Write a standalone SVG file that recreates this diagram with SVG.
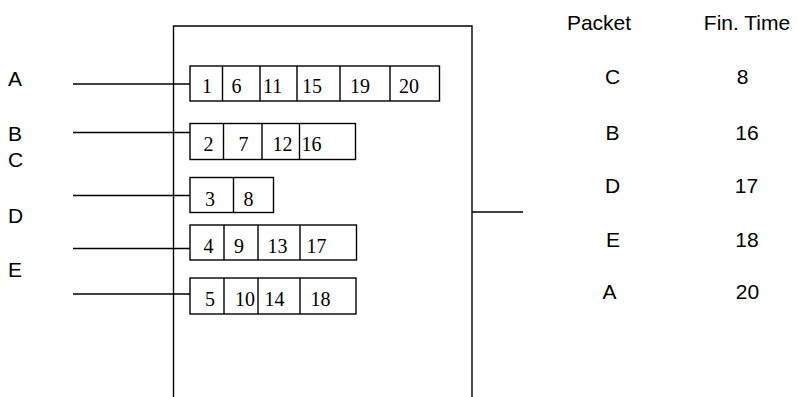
<svg xmlns="http://www.w3.org/2000/svg" width="798" height="397" viewBox="0 0 798 397">
  <style>
    .ln { stroke: #000; stroke-width: 1.4; fill: none; }
    .cell { stroke: #000; stroke-width: 1.4; fill: #fff; }
    .num { font-family: "Liberation Serif", "Times New Roman", serif; font-size: 20px; fill: #000; }
    .lbl { font-family: "Liberation Sans", Arial, sans-serif; font-size: 21px; fill: #000; }
    .tbl { font-family: "Liberation Sans", Arial, sans-serif; font-size: 21px; fill: #000; text-anchor: middle; }
  </style>
  <rect width="798" height="397" fill="#fff"/>

  <!-- scheduler enclosure (open at the bottom) -->
  <g id="scheduler">
    <path class="ln" d="M173.5,397 V26 H472 V397"/>
  </g>

  <!-- flow labels -->
  <g id="flow-labels">
    <text class="lbl" x="8" y="85.5">A</text>
    <text class="lbl" x="8" y="140.5">B</text>
    <text class="lbl" x="8" y="167">C</text>
    <text class="lbl" x="8" y="222.5">D</text>
    <text class="lbl" x="8" y="276.5">E</text>
  </g>

  <!-- input and output connectors -->
  <g id="connectors">
    <line class="ln" x1="73" y1="84" x2="190" y2="84"/>
    <line class="ln" x1="73" y1="132.5" x2="190" y2="132.5"/>
    <line class="ln" x1="73" y1="195.5" x2="190" y2="195.5"/>
    <line class="ln" x1="73" y1="248.5" x2="190" y2="248.5"/>
    <line class="ln" x1="73" y1="294" x2="190" y2="294"/>
    <line class="ln" x1="472" y1="212" x2="523" y2="212"/>
  </g>

  <!-- queue A -->
  <g id="queue-a">
    <rect class="cell" x="190" y="66" width="249.5" height="35"/>
    <path class="ln" d="M222.5,66 V101 M260,66 V101 M297,66 V101 M340,66 V101 M390,66 V101"/>
    <text class="num" x="202" y="93">1</text>
    <text class="num" x="231.5" y="93">6</text>
    <text class="num" x="263" y="93">11</text>
    <text class="num" x="302" y="93">15</text>
    <text class="num" x="350" y="93">19</text>
    <text class="num" x="399" y="93">20</text>
  </g>

  <!-- queue B -->
  <g id="queue-b">
    <rect class="cell" x="190" y="123.5" width="165.5" height="36"/>
    <path class="ln" d="M223.5,123.5 V159.5 M262,123.5 V159.5 M299.5,123.5 V159.5"/>
    <text class="num" x="203.5" y="151">2</text>
    <text class="num" x="238.5" y="151">7</text>
    <text class="num" x="272.5" y="151">12</text>
    <text class="num" x="301.5" y="151">16</text>
  </g>

  <!-- queue C -->
  <g id="queue-c">
    <rect class="cell" x="190" y="177.5" width="83.5" height="35"/>
    <path class="ln" d="M233.5,177.5 V212.5"/>
    <text class="num" x="205" y="205.5">3</text>
    <text class="num" x="243.5" y="205.5">8</text>
  </g>

  <!-- queue D -->
  <g id="queue-d">
    <rect class="cell" x="190" y="225" width="166.5" height="35"/>
    <path class="ln" d="M224,225 V260 M258,225 V260 M300,225 V260"/>
    <text class="num" x="203.5" y="252.5">4</text>
    <text class="num" x="234" y="252.5">9</text>
    <text class="num" x="267.5" y="252.5">13</text>
    <text class="num" x="306.5" y="252.5">17</text>
  </g>

  <!-- queue E -->
  <g id="queue-e">
    <rect class="cell" x="190" y="278" width="166" height="36"/>
    <path class="ln" d="M224,278 V314 M258,278 V314 M300,278 V314"/>
    <text class="num" x="205" y="305.5">5</text>
    <text class="num" x="235" y="305.5">10</text>
    <text class="num" x="264.5" y="305.5">14</text>
    <text class="num" x="310.5" y="305.5">18</text>
  </g>

  <!-- finish-time table -->
  <g id="finish-table">
    <text class="tbl" x="599" y="30">Packet</text>
    <text class="tbl" x="747" y="30">Fin. Time</text>
    <text class="tbl" x="612.5" y="84">C</text>
    <text class="tbl" x="742.5" y="84">8</text>
    <text class="tbl" x="612.5" y="139.5">B</text>
    <text class="tbl" x="747" y="139.5">16</text>
    <text class="tbl" x="612.5" y="192.5">D</text>
    <text class="tbl" x="746.5" y="192.5">17</text>
    <text class="tbl" x="613" y="246.5">E</text>
    <text class="tbl" x="747" y="246.5">18</text>
    <text class="tbl" x="609.5" y="299">A</text>
    <text class="tbl" x="747.5" y="299">20</text>
  </g>
</svg>
